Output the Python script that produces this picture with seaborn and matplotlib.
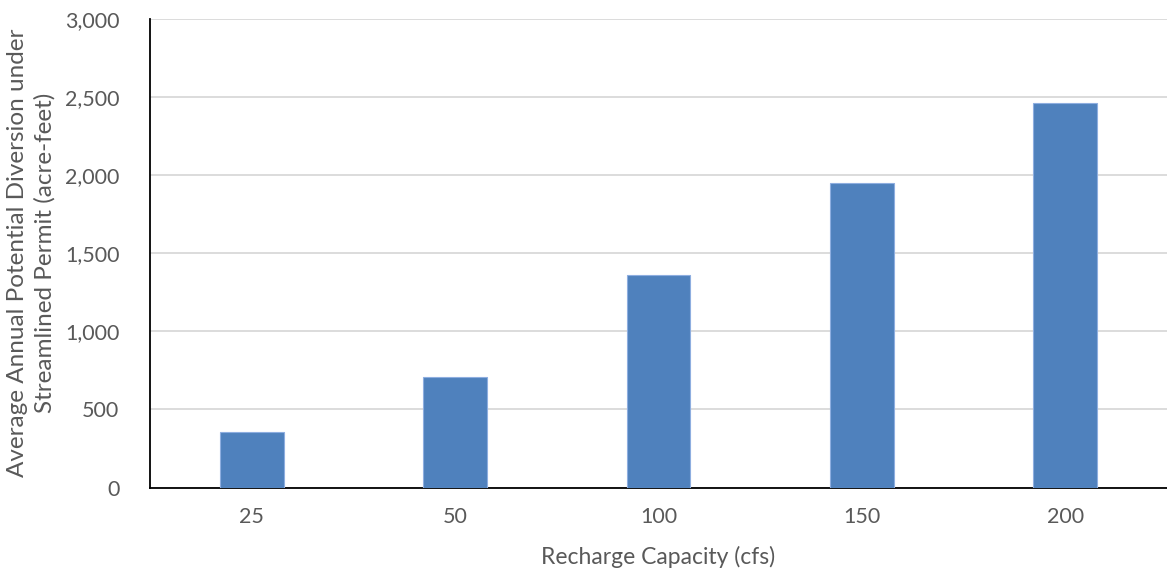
import matplotlib
matplotlib.use("Agg")
import matplotlib.pyplot as plt
import seaborn as sns
import pandas as pd
from matplotlib.ticker import FuncFormatter

capacity = ["25", "50", "100", "150", "200"]
diversion = [357, 705, 1360, 1953, 2464]

df = pd.DataFrame({"capacity": capacity, "diversion": diversion})

sns.set_theme(style="white")
plt.rcParams['font.family'] = ['Lato', 'DejaVu Sans']

fig = plt.figure(figsize=(11.67, 5.71), dpi=100)
ax = fig.add_axes([150/1167, 1 - 487.5/571, (1167-150)/1167, (487.5-19)/571])

sns.barplot(data=df, x="capacity", y="diversion", color="#4f81bd", width=0.313,
            saturation=1, ax=ax, zorder=3, edgecolor="#8eaee0", linewidth=0.8)

ax.set_ylim(0, 3000)
ax.set_xlim(-0.5, 4.5)
ax.set_yticks(range(0, 3001, 500))
ax.yaxis.set_major_formatter(FuncFormatter(lambda v, p: f"{int(v):,}"))
ax.grid(axis="y", color="#d9d9d9", linewidth=1.3, zorder=0)
ax.set_axisbelow(True)

for s in ["top", "right"]:
    ax.spines[s].set_visible(False)
for s in ["left", "bottom"]:
    ax.spines[s].set_color("black")
    ax.spines[s].set_linewidth(1.3)

ax.tick_params(axis="both", colors="#595959", labelsize=15.5, length=0)
ax.tick_params(axis="y", pad=22)
ax.tick_params(axis="x", pad=14)

ax.set_xlabel("Recharge Capacity (cfs)", fontsize=16.5, color="#595959", labelpad=14)
ax.set_ylabel("Average Annual Potential Diversion under\nStreamlined Permit (acre-feet)",
              fontsize=17.5, color="#595959", labelpad=7, linespacing=1.3)

fig.savefig("out.png", dpi=100)
